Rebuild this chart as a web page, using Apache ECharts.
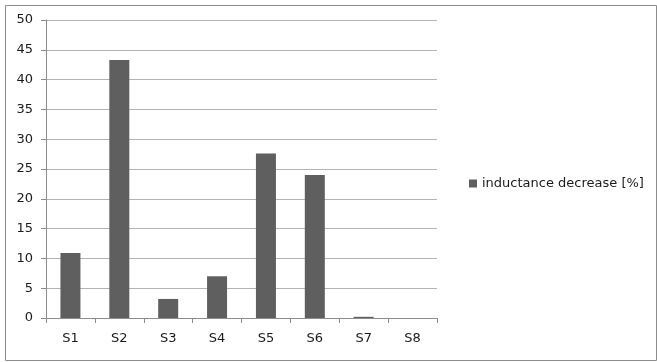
<!DOCTYPE html>
<html><head><meta charset="utf-8">
<script src="https://cdn.jsdelivr.net/npm/echarts@6/dist/echarts.min.js"></script>
<style>html,body{margin:0;padding:0;background:#fff}#c{width:657px;height:362px}</style>
</head><body><div id="c"></div>
<script>
const categories = ['S1','S2','S3','S4','S5','S6','S7','S8'];
const values = [10.9, 43.3, 3.2, 7.0, 27.6, 24.0, 0.2, 0];
const seriesName = 'inductance decrease [%]';
const yTicks = {min: 0, max: 50, interval: 5};

const chart = echarts.init(document.getElementById('c'), null, {renderer: 'canvas'});
const font = 'DejaVu Sans';
chart.setOption({
  animation: false,
  backgroundColor: '#fff',
  graphic: [{
    type: 'rect', left: 3, top: 3,
    shape: {width: 651, height: 355},
    style: {fill: 'none', stroke: '#8c8c8c', lineWidth: 1}, silent: true
  }],
  grid: {left: 46, right: 220, top: 20, bottom: 44, containLabel: false},
  legend: {
    orient: 'vertical', left: 464, top: 172,
    itemWidth: 8, itemHeight: 8, itemGap: 5, icon: 'rect',
    textStyle: {fontFamily: font, fontSize: 13, color: '#1a1a1a'},
    data: [seriesName]
  },
  xAxis: {
    type: 'category', data: categories,
    axisLine: {lineStyle: {color: '#8c8c8c'}},
    axisTick: {show: true, length: 5, lineStyle: {color: '#8c8c8c'}},
    axisLabel: {fontFamily: font, fontSize: 13, color: '#1a1a1a', margin: 14}
  },
  yAxis: {
    type: 'value', min: yTicks.min, max: yTicks.max, interval: yTicks.interval,
    axisLine: {show: true, lineStyle: {color: '#8c8c8c'}},
    axisTick: {show: true, length: 5, lineStyle: {color: '#8c8c8c'}},
    axisLabel: {fontFamily: font, fontSize: 13, color: '#1a1a1a', margin: 13},
    splitLine: {lineStyle: {color: '#b4b4b4'}}
  },
  series: [{
    name: seriesName, type: 'bar', data: values,
    barWidth: 20,
    itemStyle: {color: '#5f5f5f'}
  }]
});
</script></body></html>
